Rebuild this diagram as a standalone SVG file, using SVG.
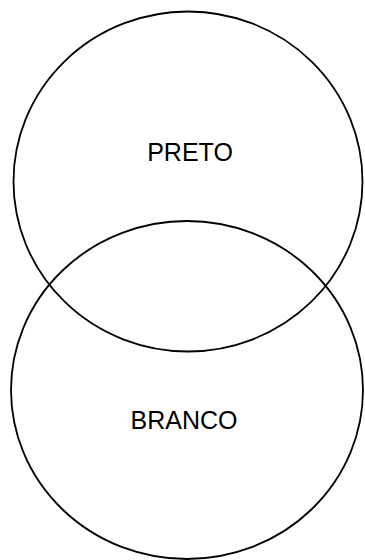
<svg xmlns="http://www.w3.org/2000/svg" width="365" height="560" viewBox="0 0 365 560">
<style>
.shape{fill:none;stroke:#000;stroke-width:1.8}
.lbl{font-family:"Liberation Sans",Arial,sans-serif;font-size:25px;fill:#000;text-anchor:middle}
</style>
<rect width="365" height="560" fill="#fff"/>
<g id="preto">
<ellipse class="shape" cx="188" cy="181.5" rx="174.5" ry="170"/>
<text class="lbl" x="190" y="160.5">PRETO</text>
</g>
<g id="branco">
<ellipse class="shape" cx="187" cy="390" rx="176" ry="169"/>
<text class="lbl" x="184" y="428.5">BRANCO</text>
</g>
<g id="connectors"/>
</svg>
